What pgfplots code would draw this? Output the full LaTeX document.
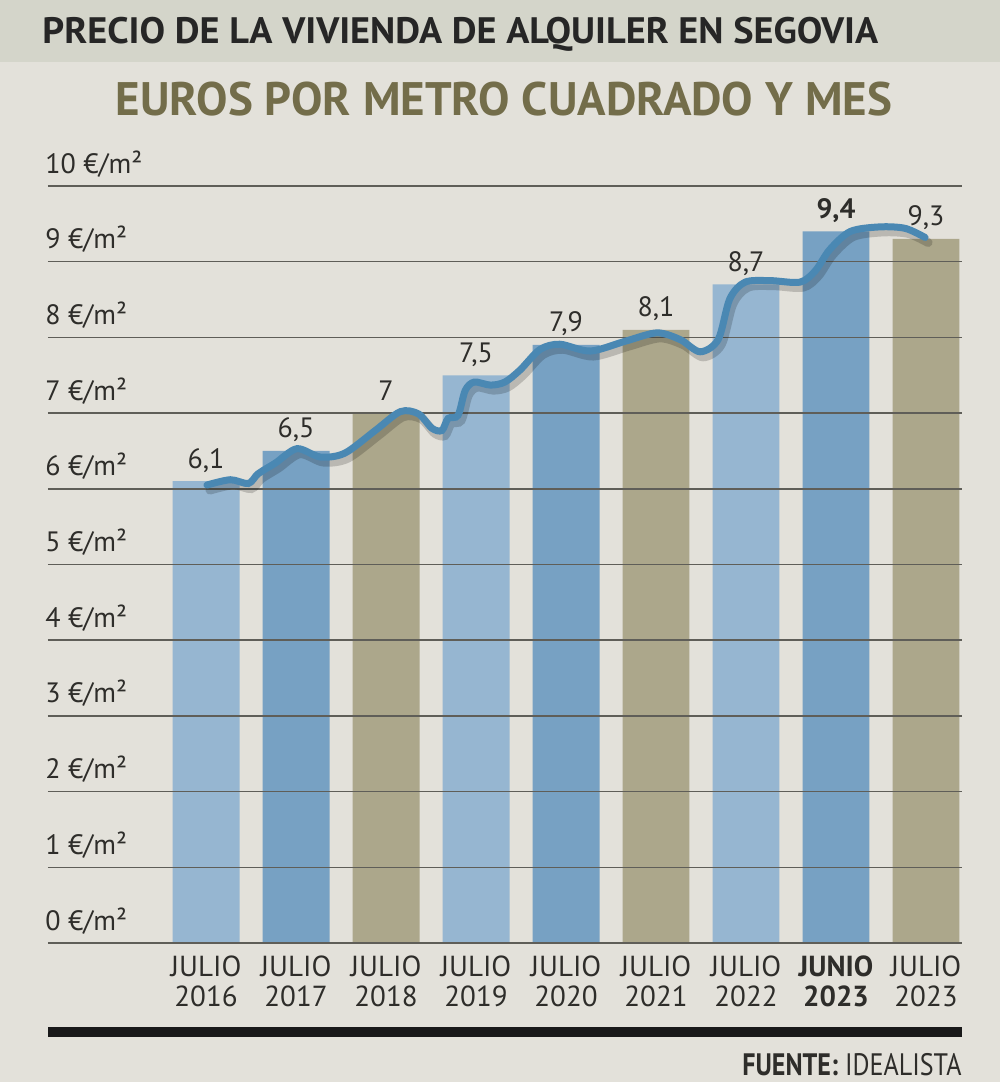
\documentclass[border=0pt]{standalone}
\usepackage{pgfplots}
\pgfplotsset{compat=1.18}
\usepackage{fontspec}
\setmainfont{PT Sans}
\newfontfamily\cond[FakeStretch=0.84]{PT Sans}
\newfontfamily\wide[FakeStretch=1.04]{PT Sans}

\definecolor{bgmain}{HTML}{E3E1DA}
\definecolor{bgband}{HTML}{D4D5CA}
\definecolor{olive}{HTML}{736D4A}
\definecolor{txt}{HTML}{2E2D2A}
\definecolor{gridc}{HTML}{5F5E58}
\definecolor{barlight}{HTML}{96B6D1}
\definecolor{barmid}{HTML}{77A1C3}
\definecolor{barkhaki}{HTML}{ACA78B}
\definecolor{linec}{HTML}{4A88B3}

\begin{document}
\begin{tikzpicture}
% fondo (1 px de la referencia = 0.5pt)
\fill[bgmain] (0pt,0pt) rectangle (500pt,-541pt);
\fill[bgband] (0pt,0pt) rectangle (500pt,-31pt);
\node[anchor=base west, inner sep=0pt, text=black!85, font=\wide\bfseries\fontsize{18.4}{19}\selectfont]
  at (21pt,-21.5pt) {PRECIO DE LA VIVIENDA DE ALQUILER EN SEGOVIA};
\node[anchor=base, inner sep=0pt, text=olive, font=\bfseries\fontsize{23.5}{24}\selectfont]
  at (252pt,-57.5pt) {EUROS POR METRO CUADRADO Y MES};

\pgfplotsset{
  base/.style={
    at={(24pt,-471.5pt)}, anchor=south west,
    scale only axis, width=457pt, height=378.5pt,
    xmin=-1.756, xmax=8.4, ymin=0, ymax=10,
    axis line style={draw=none},
    major tick length=0pt,
  }
}

\begin{axis}[
  base,
  axis on top,
  ytick={0,1,...,10},
  yticklabels={0 €/m²,1 €/m²,2 €/m²,3 €/m²,4 €/m²,5 €/m²,6 €/m²,7 €/m²,8 €/m²,9 €/m²,10 €/m²},
  yticklabel style={anchor=base west, inner sep=0pt, xshift=-1.5pt, yshift=6.5pt,
    text=txt, font=\fontsize{14}{16}\selectfont},
  ymajorgrids,
  grid style={gridc, line width=0.75pt},
  xtick={0,...,8},
  xticklabels={JULIO\\2016, JULIO\\2017, JULIO\\2018, JULIO\\2019, JULIO\\2020,
    JULIO\\2021, JULIO\\2022, \textbf{JUNIO}\\\textbf{2023}, JULIO\\2023},
  xticklabel style={align=center, anchor=north, inner sep=0pt, yshift=-6pt,
    text=txt, font=\fontsize{14.5}{15}\selectfont},
  ybar, bar width=0.744, bar shift=0pt,
  point meta=explicit symbolic,
  nodes near coords,
  nodes near coords style={anchor=base, inner sep=0pt, yshift=6.5pt,
    text=txt, font=\fontsize{14}{16}\selectfont},
]
\addplot[fill=barlight, draw=none] coordinates {(0,6.1) [6,1] (3,7.5) [7,5] (6,8.7) [8,7]};
\addplot[fill=barmid, draw=none] coordinates {(1,6.5) [6,5] (4,7.9) [7,9] (7,9.4) [\textbf{9,4}]};
\addplot[fill=barkhaki, draw=none] coordinates {(2,7.0) [7] (5,8.1) [8,1] (8,9.3) [9,3]};
\end{axis}

\begin{axis}[base, hide axis]
\addplot[linec, line width=3.5pt, smooth, tension=0.5, line cap=round,
  preaction={draw=black, opacity=0.18, line width=4.5pt,
    transform canvas={xshift=1.5pt, yshift=-2.5pt}}]
  table {
x y
0.01 6.05
0.27 6.12
0.47 6.07
0.58 6.20
0.77 6.34
1.01 6.53
1.27 6.42
1.54 6.47
1.88 6.77
2.16 7.02
2.36 6.99
2.51 6.80
2.62 6.77
2.69 6.93
2.80 6.97
2.88 7.30
2.98 7.41
3.16 7.37
3.32 7.41
3.49 7.57
3.71 7.84
3.93 7.91
4.27 7.82
4.66 7.95
5.01 8.06
5.27 7.97
5.49 7.81
5.69 7.97
5.82 8.51
5.99 8.73
6.27 8.75
6.60 8.73
6.77 8.88
6.93 9.16
7.16 9.40
7.49 9.46
7.77 9.44
7.99 9.32
};
\end{axis}

% pie
\fill[black!90] (24pt,-513.5pt) rectangle (481pt,-518.5pt);
\node[anchor=base east, inner sep=0pt, text=txt, font=\cond\fontsize{15.5}{16}\selectfont]
  at (481pt,-537.5pt) {\textbf{FUENTE:} IDEALISTA};
\end{tikzpicture}
\end{document}
